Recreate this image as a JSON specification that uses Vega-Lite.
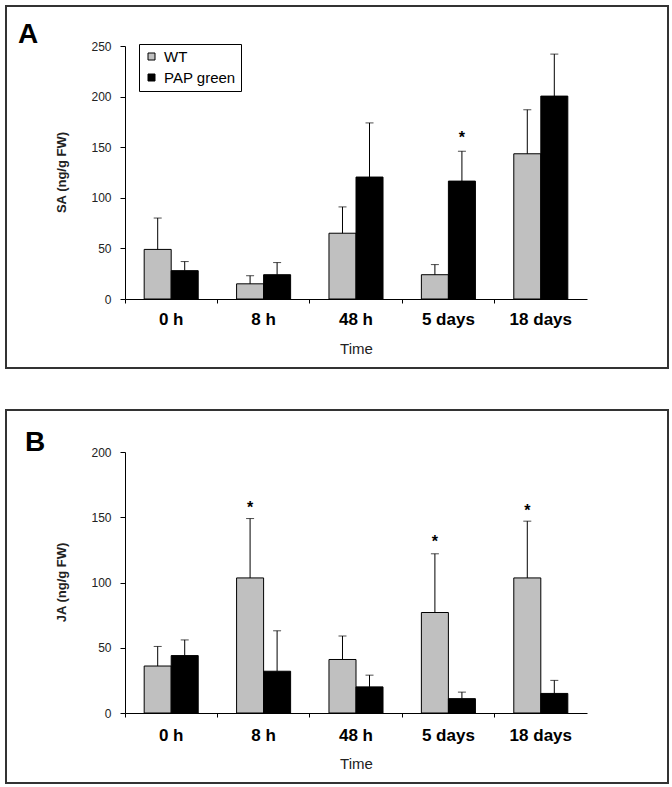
{
  "$schema": "https://vega.github.io/schema/vega-lite/v6.json",
  "padding": {"left": 5, "top": 5, "right": 0, "bottom": 0},
  "bounds": "flush",
  "spacing": 42,
  "background": "white",
  "config": {
    "view": {"stroke": "#333", "strokeWidth": 2},
    "font": "Liberation Sans",
    "axis": {"grid": false, "domainColor": "#000", "tickColor": "#000", "labelColor": "#222", "titleColor": "#222"}
  },
  "datasets": {
    "sa": [
      {"time": "0 h", "genotype": "WT", "value": 49, "upper": 80},
      {"time": "0 h", "genotype": "PAP green", "value": 28, "upper": 37},
      {"time": "8 h", "genotype": "WT", "value": 15, "upper": 23},
      {"time": "8 h", "genotype": "PAP green", "value": 24, "upper": 36},
      {"time": "48 h", "genotype": "WT", "value": 65, "upper": 91},
      {"time": "48 h", "genotype": "PAP green", "value": 120.5, "upper": 174},
      {"time": "5 days", "genotype": "WT", "value": 24, "upper": 34},
      {"time": "5 days", "genotype": "PAP green", "value": 116.5, "upper": 146},
      {"time": "18 days", "genotype": "WT", "value": 143.5, "upper": 187},
      {"time": "18 days", "genotype": "PAP green", "value": 200.5, "upper": 242}
    ],
    "saStars": [
      {"time": "5 days", "genotype": "PAP green", "star": 163}
    ],
    "ja": [
      {"time": "0 h", "genotype": "WT", "value": 36, "upper": 51},
      {"time": "0 h", "genotype": "PAP green", "value": 44, "upper": 56},
      {"time": "8 h", "genotype": "WT", "value": 103.5, "upper": 149},
      {"time": "8 h", "genotype": "PAP green", "value": 32, "upper": 63},
      {"time": "48 h", "genotype": "WT", "value": 41, "upper": 59},
      {"time": "48 h", "genotype": "PAP green", "value": 20, "upper": 29},
      {"time": "5 days", "genotype": "WT", "value": 77, "upper": 122},
      {"time": "5 days", "genotype": "PAP green", "value": 11, "upper": 16},
      {"time": "18 days", "genotype": "WT", "value": 103.5, "upper": 147},
      {"time": "18 days", "genotype": "PAP green", "value": 15, "upper": 25}
    ],
    "jaStars": [
      {"time": "8 h", "genotype": "WT", "star": 160},
      {"time": "5 days", "genotype": "WT", "star": 134},
      {"time": "18 days", "genotype": "WT", "star": 158}
    ]
  },
  "vconcat": [
    {
      "width": 662,
      "height": 362,
      "title": {"text": "A", "anchor": "start", "frame": "group", "orient": "top", "offset": -65, "baseline": "alphabetic", "dx": 12, "fontSize": 28, "fontWeight": "bold", "color": "#000", "font": "Liberation Sans"},
      "data": {"name": "sa"},
      "layer": [
        {
          "mark": {"type": "bar", "stroke": "#000", "strokeWidth": 1},
          "encoding": {
            "x": {"field": "time", "type": "nominal", "sort": ["0 h", "8 h", "48 h", "5 days", "18 days"],
              "scale": {"range": [119, 581], "paddingInner": 0, "paddingOuter": 0},
              "axis": {"orient": "bottom", "title": "Time", "offset": -69, "ticks": false, "tickSize": 0, "labelAngle": 0, "labelFontSize": 17, "labelFontWeight": "bold", "labelColor": "#000", "labelPadding": 12, "titleFontSize": 15, "titleFontWeight": "normal", "titleY": 54, "titleBaseline": "alphabetic"}},
            "xOffset": {"field": "genotype", "type": "nominal", "sort": ["WT", "PAP green"], "scale": {"paddingInner": 0, "paddingOuter": 0.71}},
            "y": {"field": "value", "type": "quantitative", "title": "SA (ng/g FW)",
              "scale": {"domain": [0, 250], "range": [293, 40], "nice": false},
              "axis": {"offset": -119, "values": [0, 50, 100, 150, 200, 250], "tickSize": 5, "labelPadding": 9, "labelFontSize": 12, "titleFontSize": 13, "titleFontWeight": "bold", "titleX": -57, "titleY": 166, "titleBaseline": "bottom"}},
            "fill": {"field": "genotype", "type": "nominal", "scale": {"domain": ["WT", "PAP green"], "range": ["#c0c0c0", "#000000"]},
              "legend": {"title": null, "orient": "none", "legendX": 133, "legendY": 38, "strokeColor": "#000", "fillColor": "#fff", "padding": 5, "symbolType": "square", "symbolSize": 49, "symbolStrokeColor": "#000", "symbolStrokeWidth": 1, "labelFontSize": 15, "labelColor": "#000", "labelOffset": 5, "rowPadding": 5}}
          }
        },
        {
          "mark": {"type": "rule", "color": "#000", "strokeWidth": 1},
          "encoding": {
            "x": {"field": "time", "type": "nominal", "sort": ["0 h", "8 h", "48 h", "5 days", "18 days"],
              "axis": {"orient": "bottom", "offset": -69, "labels": false, "title": null, "domain": false, "ticks": true, "tickSize": 4, "bandPosition": 0}},
            "xOffset": {"field": "genotype", "type": "nominal", "sort": ["WT", "PAP green"]},
            "y": {"field": "value", "type": "quantitative", "title": "SA (ng/g FW)"},
            "y2": {"field": "upper"}
          }
        },
        {
          "mark": {"type": "tick", "orient": "horizontal", "size": 8, "thickness": 1, "color": "#000"},
          "encoding": {
            "x": {"field": "time", "type": "nominal", "sort": ["0 h", "8 h", "48 h", "5 days", "18 days"], "axis": null},
            "xOffset": {"field": "genotype", "type": "nominal", "sort": ["WT", "PAP green"]},
            "y": {"field": "upper", "type": "quantitative", "title": "SA (ng/g FW)"}
          }
        },
        {
          "data": {"name": "saStars"},
          "mark": {"type": "text", "text": "*", "fontSize": 16, "fontWeight": "bold", "baseline": "alphabetic", "dy": 9, "color": "#000"},
          "encoding": {
            "x": {"field": "time", "type": "nominal", "sort": ["0 h", "8 h", "48 h", "5 days", "18 days"], "axis": null},
            "xOffset": {"field": "genotype", "type": "nominal", "sort": ["WT", "PAP green"]},
            "y": {"field": "star", "type": "quantitative", "title": "SA (ng/g FW)"}
          }
        }
      ],
      "resolve": {"axis": {"x": "independent"}}
    },
    {
      "width": 662,
      "height": 373,
      "title": {"text": "B", "anchor": "start", "frame": "group", "orient": "top", "offset": -69, "baseline": "alphabetic", "dx": 19, "fontSize": 28, "fontWeight": "bold", "color": "#000", "font": "Liberation Sans"},
      "data": {"name": "ja"},
      "layer": [
        {
          "mark": {"type": "bar", "stroke": "#000", "strokeWidth": 1},
          "encoding": {
            "x": {"field": "time", "type": "nominal", "sort": ["0 h", "8 h", "48 h", "5 days", "18 days"],
              "scale": {"range": [119, 581], "paddingInner": 0, "paddingOuter": 0},
              "axis": {"orient": "bottom", "title": "Time", "offset": -70, "ticks": false, "tickSize": 0, "labelAngle": 0, "labelFontSize": 17, "labelFontWeight": "bold", "labelColor": "#000", "labelPadding": 14, "titleFontSize": 15, "titleFontWeight": "normal", "titleY": 55, "titleBaseline": "alphabetic"}},
            "xOffset": {"field": "genotype", "type": "nominal", "sort": ["WT", "PAP green"], "scale": {"paddingInner": 0, "paddingOuter": 0.71}},
            "y": {"field": "value", "type": "quantitative", "title": "JA (ng/g FW)",
              "scale": {"domain": [0, 200], "range": [303, 42], "nice": false},
              "axis": {"offset": -119, "values": [0, 50, 100, 150, 200], "tickSize": 5, "labelPadding": 9, "labelFontSize": 12, "titleFontSize": 13, "titleFontWeight": "bold", "titleX": -57, "titleY": 172, "titleBaseline": "bottom"}},
            "fill": {"field": "genotype", "type": "nominal", "scale": {"domain": ["WT", "PAP green"], "range": ["#c0c0c0", "#000000"]},
              "legend": {"title": null, "orient": "none", "legendX": 130, "legendY": 40, "strokeColor": "#000", "fillColor": "#fff", "padding": 5, "symbolType": "square", "symbolSize": 49, "symbolStrokeColor": "#000", "symbolStrokeWidth": 1, "labelFontSize": 15, "labelColor": "#000", "labelOffset": 5, "rowPadding": 5}}
          }
        },
        {
          "mark": {"type": "rule", "color": "#000", "strokeWidth": 1},
          "encoding": {
            "x": {"field": "time", "type": "nominal", "sort": ["0 h", "8 h", "48 h", "5 days", "18 days"],
              "axis": {"orient": "bottom", "offset": -70, "labels": false, "title": null, "domain": false, "ticks": true, "tickSize": 4, "bandPosition": 0}},
            "xOffset": {"field": "genotype", "type": "nominal", "sort": ["WT", "PAP green"]},
            "y": {"field": "value", "type": "quantitative", "title": "JA (ng/g FW)"},
            "y2": {"field": "upper"}
          }
        },
        {
          "mark": {"type": "tick", "orient": "horizontal", "size": 8, "thickness": 1, "color": "#000"},
          "encoding": {
            "x": {"field": "time", "type": "nominal", "sort": ["0 h", "8 h", "48 h", "5 days", "18 days"], "axis": null},
            "xOffset": {"field": "genotype", "type": "nominal", "sort": ["WT", "PAP green"]},
            "y": {"field": "upper", "type": "quantitative", "title": "JA (ng/g FW)"}
          }
        },
        {
          "data": {"name": "jaStars"},
          "mark": {"type": "text", "text": "*", "fontSize": 16, "fontWeight": "bold", "baseline": "alphabetic", "dy": 9, "color": "#000"},
          "encoding": {
            "x": {"field": "time", "type": "nominal", "sort": ["0 h", "8 h", "48 h", "5 days", "18 days"], "axis": null},
            "xOffset": {"field": "genotype", "type": "nominal", "sort": ["WT", "PAP green"]},
            "y": {"field": "star", "type": "quantitative", "title": "JA (ng/g FW)"}
          }
        }
      ],
      "resolve": {"axis": {"x": "independent"}}
    }
  ]
}
